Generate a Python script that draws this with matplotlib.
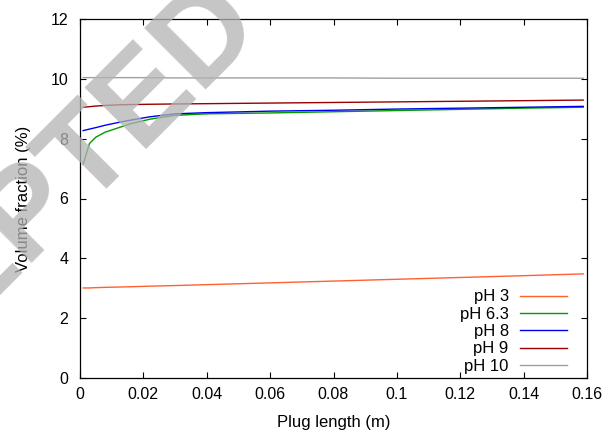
import numpy as np
import matplotlib
matplotlib.use("Agg")
import matplotlib.pyplot as plt

plt.rcParams["font.family"] = ["Liberation Sans", "DejaVu Sans"]

# ── data ─────────────────────────────────────────────────────────────────────
plug_length = [0.001, 0.003, 0.005, 0.008, 0.012, 0.016, 0.022, 0.03,
               0.04, 0.06, 0.08, 0.1, 0.12, 0.14, 0.1588]

ph3 = [3.01, 3.01, 3.02, 3.03, 3.04, 3.05, 3.07, 3.09,
       3.12, 3.18, 3.24, 3.30, 3.36, 3.42, 3.48]
ph63 = [7.15, 7.84, 8.05, 8.22, 8.36, 8.50, 8.65, 8.78,
        8.83, 8.86, 8.90, 8.94, 8.98, 9.02, 9.05]
ph8 = [8.27, 8.32, 8.37, 8.45, 8.54, 8.62, 8.73, 8.83,
       8.87, 8.92, 8.95, 8.99, 9.02, 9.05, 9.08]
ph9 = [9.05, 9.07, 9.09, 9.11, 9.13, 9.14, 9.15, 9.16,
       9.17, 9.19, 9.21, 9.23, 9.25, 9.27, 9.29]
ph10 = [10.04, 10.04, 10.04, 10.04, 10.04, 10.04, 10.04, 10.03,
        10.03, 10.03, 10.03, 10.02, 10.02, 10.02, 10.02]

labels = ["pH 3", "pH 6.3", "pH 8", "pH 9", "pH 10"]
series = [ph3, ph63, ph8, ph9, ph10]
colors = ["#ff6030", "#009900", "#0000ee", "#990000", "#a0a0a0"]

xticks = [0, 0.02, 0.04, 0.06, 0.08, 0.1, 0.12, 0.14, 0.16]
xticklabels = ["0", "0.02", "0.04", "0.06", "0.08", "0.1", "0.12", "0.14", "0.16"]
yticks = [0, 2, 4, 6, 8, 10, 12]

# ── figure ───────────────────────────────────────────────────────────────────
fig = plt.figure(figsize=(6.09, 4.32), dpi=100)
ax = fig.add_axes([80 / 609, 1 - 378 / 432, 507 / 609, 359 / 432])

for y, lab, c in zip(series, labels, colors):
    ax.plot(plug_length, y, color=c, lw=1.0, label=lab)

ax.set_xlim(0, 0.16)
ax.set_ylim(0, 12)
ax.set_xticks(xticks)
ax.set_xticklabels(xticklabels)
ax.set_yticks(yticks)
ax.tick_params(direction="in", length=4, width=0.8, labelsize=11.5,
               top=True, right=True, colors="black")
ax.tick_params(axis="x", pad=6.5)
ax.tick_params(axis="y", pad=8.5)
for s in ax.spines.values():
    s.set_linewidth(0.9)

ax.set_xlabel("Plug length (m)", fontsize=12, labelpad=9)
ax.set_ylabel("Volume fraction (%)", fontsize=12, labelpad=14)

ax.legend(loc="lower right", bbox_to_anchor=((567 - 80) / 507, 0.012),
          frameon=False, markerfirst=False, fontsize=12, handlelength=2.8,
          handletextpad=0.7, labelspacing=0.14, borderpad=0, borderaxespad=0)

# faint diagonal watermark over the plot (cut by the figure edges as in the source)
fig.text(-4 / 609, 1 - 250 / 432, "ACCEPTED", rotation=45,
         rotation_mode="anchor", ha="center", va="center", fontsize=91,
         fontweight="bold", color="#b4b4b4", alpha=0.76, zorder=10)

fig.savefig("out.png", dpi=100)
